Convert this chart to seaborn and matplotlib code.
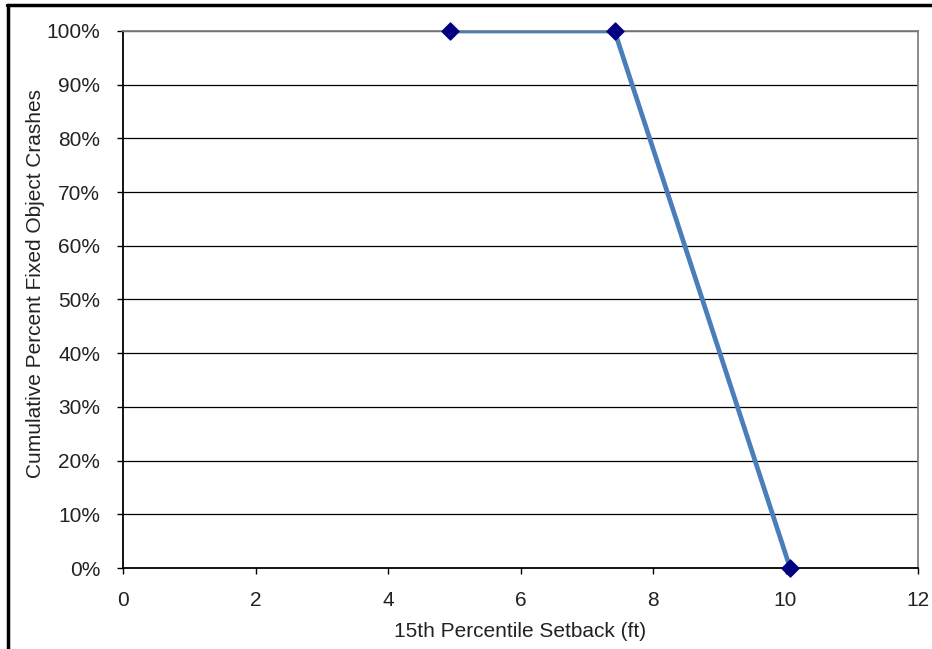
import matplotlib
matplotlib.use("Agg")
import matplotlib.pyplot as plt
import matplotlib.ticker as mticker
from matplotlib.lines import Line2D
import seaborn as sns
import pandas as pd

# podaci ocitani sa slike
setback_ft = [4.93, 7.42, 10.07]
cum_pct = [100, 100, 0]

x_ticks = [0, 2, 4, 6, 8, 10, 12]
y_ticks = list(range(0, 101, 10))

sns.set_style("white")
plt.rcParams['font.family'] = ['Liberation Sans', 'DejaVu Sans']

df = pd.DataFrame({'setback': setback_ft, 'pct': cum_pct})

fig = plt.figure(figsize=(9.32, 6.49), dpi=100)
ax = fig.add_axes([123 / 932, 1 - 568 / 649, (918 - 123) / 932, (568 - 31) / 649])

# horizontalne linije mreze
for yv in y_ticks[1:]:
    ax.axhline(yv, color='black', lw=0.9, zorder=1)

sns.lineplot(data=df, x='setback', y='pct', sort=False, ax=ax,
             color='#4A7EBB', lw=3.4, zorder=3)
ax.scatter(setback_ft, cum_pct, marker='D', s=75, color='#000080',
           zorder=4, clip_on=False, edgecolors='#000080')

ax.set_xlim(0, 12)
ax.set_ylim(0, 100)
ax.set_xticks(x_ticks)
ax.set_yticks(y_ticks)
ax.yaxis.set_major_formatter(mticker.FuncFormatter(lambda v, p: f'{int(v)}%'))

ax.tick_params(axis='both', direction='out', length=4.5, width=1, color='black',
               labelsize=15, labelcolor='#222222', bottom=True, left=True)
ax.tick_params(axis='x', pad=12)
ax.tick_params(axis='y', pad=12)

ax.set_xlabel('15th Percentile Setback (ft)', fontsize=15, color='#222222')
ax.set_ylabel('Cumulative Percent Fixed Object Crashes', fontsize=15, color='#222222')
ax.xaxis.set_label_coords(0.5, (568 - 622) / 537)
ax.yaxis.set_label_coords((45 - 123) / 795, (568 - 284) / 537)

for side in ['left', 'bottom']:
    ax.spines[side].set_color('black')
    ax.spines[side].set_linewidth(1.3)
for side in ['top', 'right']:
    ax.spines[side].set_color('#808080')
    ax.spines[side].set_linewidth(1.3)
    ax.spines[side].set_visible(True)

# okvir slike (levo i gore)
fig.add_artist(Line2D([7.5 / 932, 7.5 / 932], [0, 1 - 4.5 / 649],
                      transform=fig.transFigure, color='black', lw=2.5))
fig.add_artist(Line2D([6.5 / 932, 1], [1 - 4.5 / 649, 1 - 4.5 / 649],
                      transform=fig.transFigure, color='black', lw=2.5))

fig.savefig('out.png', dpi=100)
